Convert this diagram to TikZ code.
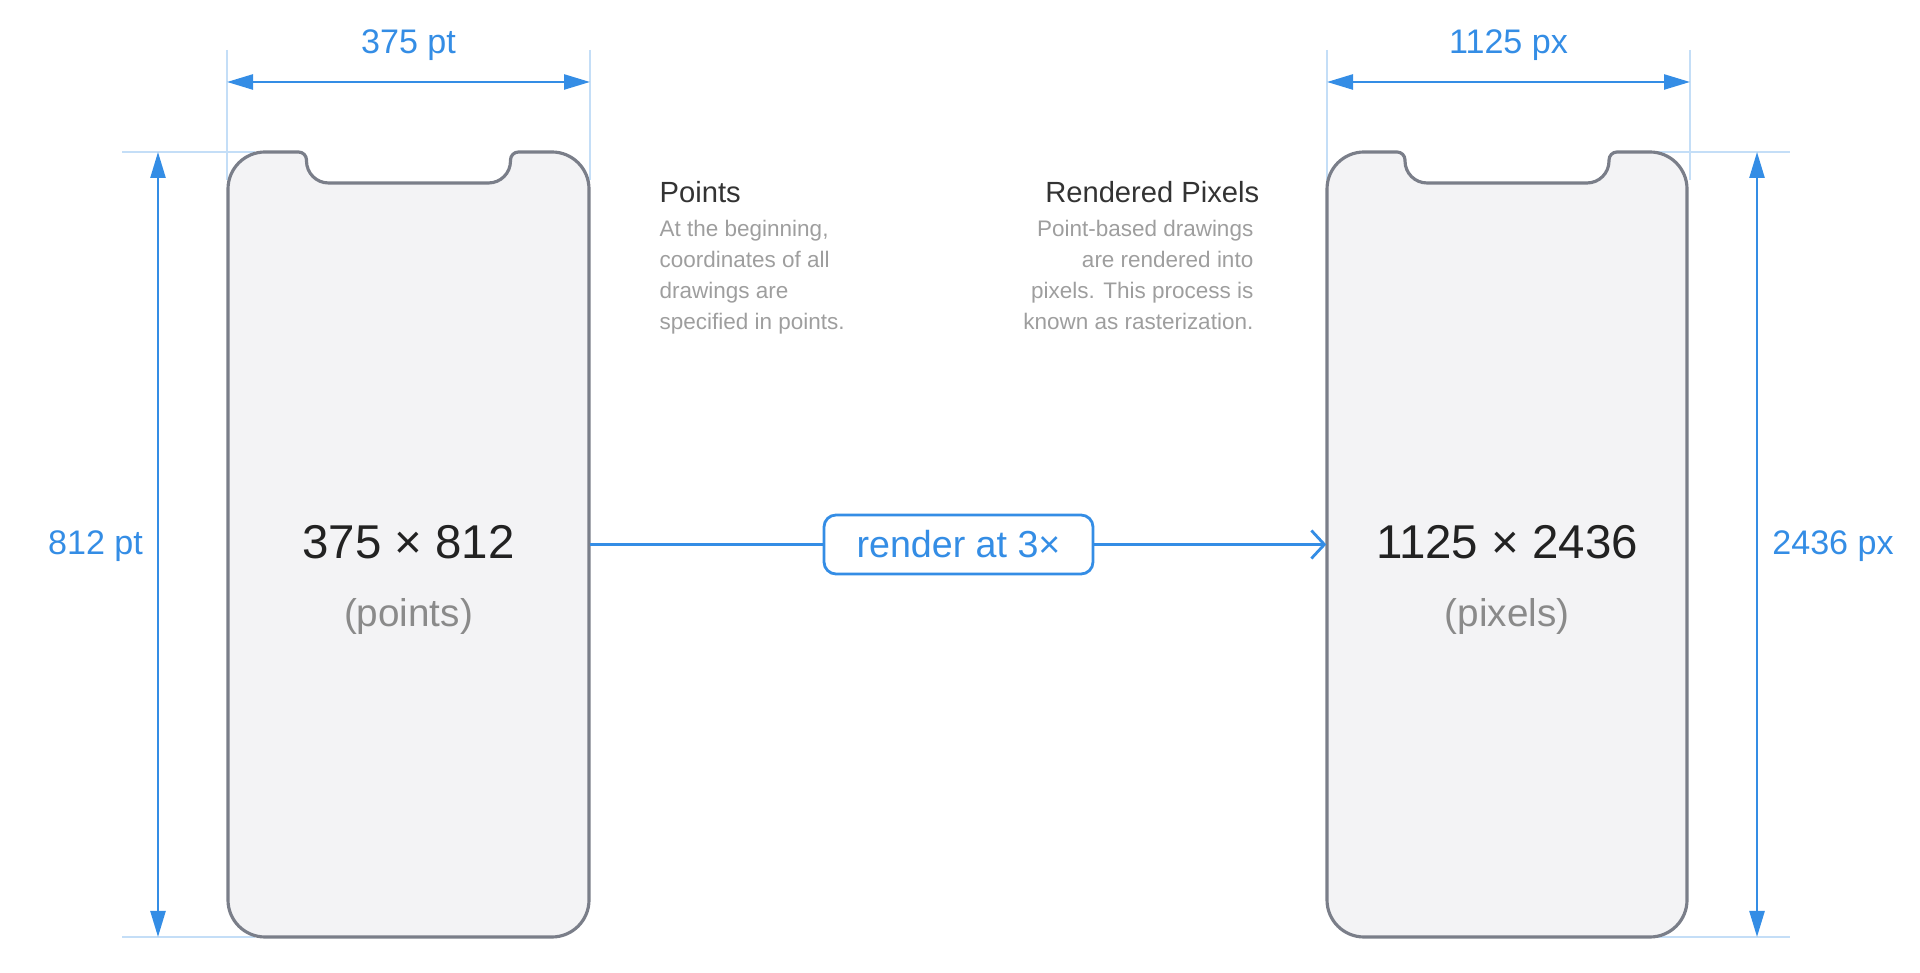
\documentclass[tikz,border=0pt]{standalone}
\usepackage{fontspec}
\setmainfont{Liberation Sans}
\usetikzlibrary{arrows.meta}

\definecolor{dimblue}{RGB}{52,141,229}
\definecolor{extblue}{RGB}{196,222,247}
\definecolor{phonegray}{RGB}{122,126,137}
\definecolor{phonefill}{RGB}{243,243,245}
\definecolor{txtdark}{RGB}{34,34,34}
\definecolor{headgray}{RGB}{51,51,51}
\definecolor{txtgray}{RGB}{158,158,158}
\definecolor{subgray}{RGB}{138,138,138}

% outline of a phone with a notch: left edge, right edge
\newcommand{\phoneoutline}[2]{
	\pgfmathsetmacro{\phC}{(#1+#2)/2}
	\draw[phoneline] (#1, \phB+\phR) -- (#1, \phT-\phR) arc[start angle=180, end angle=90, radius=\phR]
		-- (\phC-\nchW-\nchA, \phT) arc[start angle=90, end angle=0, radius=\nchA]
		-- (\phC-\nchW, \phT-\nchD+\nchB) arc[start angle=180, end angle=270, radius=\nchB]
		-- (\phC+\nchW-\nchB, \phT-\nchD) arc[start angle=270, end angle=360, radius=\nchB]
		-- (\phC+\nchW, \phT-\nchA) arc[start angle=180, end angle=90, radius=\nchA]
		-- (#2-\phR, \phT) arc[start angle=90, end angle=0, radius=\phR]
		-- (#2, \phB+\phR) arc[start angle=0, end angle=-90, radius=\phR]
		-- (#1+\phR, \phB) arc[start angle=270, end angle=180, radius=\phR] -- cycle;
}

\begin{document}
\begin{tikzpicture}[
	phoneline/.style={draw=phonegray, line width=0.9pt, fill=phonefill},
	phonebody/.style={inner sep=0pt, minimum width=3.61cm, minimum height=7.85cm},
	dimarrow/.style={dimblue, line width=0.7pt, {Triangle[length=2.6mm,width=1.5mm]}-{Triangle[length=2.6mm,width=1.5mm]}},
	extline/.style={extblue, line width=0.4pt},
	dimlabel/.style={text=dimblue, font=\fontsize{9.7}{11}\selectfont},
	sizelabel/.style={text=txtdark, font=\fontsize{13.5}{16}\selectfont},
	unitlabel/.style={text=subgray, font=\fontsize{11}{13}\selectfont},
	heading/.style={text=headgray, font=\fontsize{8.3}{10}\selectfont, inner sep=0pt},
	desctext/.style={text=txtgray, font=\fontsize{6.4}{8.8}\selectfont, inner sep=0pt},
	renderbox/.style={draw=dimblue, line width=0.8pt, rounded corners=0.12cm, fill=white,
		minimum width=2.69cm, minimum height=0.59cm, text=dimblue, font=\fontsize{10.7}{12}\selectfont},
	renderlink/.style={dimblue, line width=0.8pt}
]
\useasboundingbox (0,0) rectangle (19.2,9.73);

\def\phT{8.21}
\def\phB{0.36}
\def\phR{0.37}
\def\nchW{1.02}
\def\nchD{0.31}
\def\nchA{0.08}
\def\nchB{0.22}

% extension lines
\foreach \x in {2.27, 5.90, 13.27, 16.90}
	\draw[extline] (\x, 9.23) -- (\x, 7.93);
\foreach \y in {8.21, 0.36}{
	\draw[extline] (1.22, \y) -- (2.55, \y);
	\draw[extline] (16.40, \y) -- (17.90, \y);
}

\phoneoutline{2.28}{5.89}
\phoneoutline{13.27}{16.87}

\node[phonebody] (pts) at (4.085, 4.285) {};
\node[phonebody, minimum width=3.60cm] (pxs) at (15.07, 4.285) {};

\node[sizelabel] (ptssize) at (4.085, 4.31) {375 × 812};
\node[unitlabel] (ptsunit) at (4.085, 3.56) {(points)};
\node[sizelabel] (pxssize) at (15.07, 4.31) {1125 × 2436};
\node[unitlabel] (pxsunit) at (15.07, 3.56) {(pixels)};

% dimensions
\coordinate (ptsw1) at (2.27, 8.91);
\coordinate (ptsw2) at (5.90, 8.91);
\coordinate (pxsw1) at (13.27, 8.91);
\coordinate (pxsw2) at (16.90, 8.91);
\coordinate (ptsh1) at (1.58, 8.21);
\coordinate (ptsh2) at (1.58, 0.36);
\coordinate (pxsh1) at (17.57, 8.21);
\coordinate (pxsh2) at (17.57, 0.36);
\draw[dimarrow] (ptsw1) -- (ptsw2);
\draw[dimarrow] (pxsw1) -- (pxsw2);
\draw[dimarrow] (ptsh1) -- (ptsh2);
\draw[dimarrow] (pxsh1) -- (pxsh2);
\node[dimlabel] (ptswidth) at (4.085, 9.28) {375 pt};
\node[dimlabel] (pxswidth) at (15.085, 9.28) {1125 px};
\node[dimlabel] (ptsheight) at (0.955, 4.27) {812 pt};
\node[dimlabel] (pxsheight) at (18.33, 4.27) {2436 px};

% notes
\node[heading, anchor=base west] (ptshead) at (6.59, 7.70) {Points};
\node[desctext, anchor=north west, align=left] (ptsdesc) at (6.59, 7.53)
	{At the beginning,\\coordinates of all\\drawings are\\specified in points.};
\node[heading, anchor=base east] (pxshead) at (12.60, 7.70) {Rendered Pixels};
\node[desctext, anchor=north east, align=right] (pxsdesc) at (12.54, 7.53)
	{Point-based drawings\\are rendered into\\pixels. This process is\\known as rasterization.};

\node[renderbox] (render) at (9.585, 4.285) {render at 3×};
\draw[renderlink] (pts.east) -- (render.west);
\draw[renderlink, -{Straight Barb[length=1.3mm,width=2.8mm]}] (render.east) -- (pxs.west);

\end{tikzpicture}
\end{document}
